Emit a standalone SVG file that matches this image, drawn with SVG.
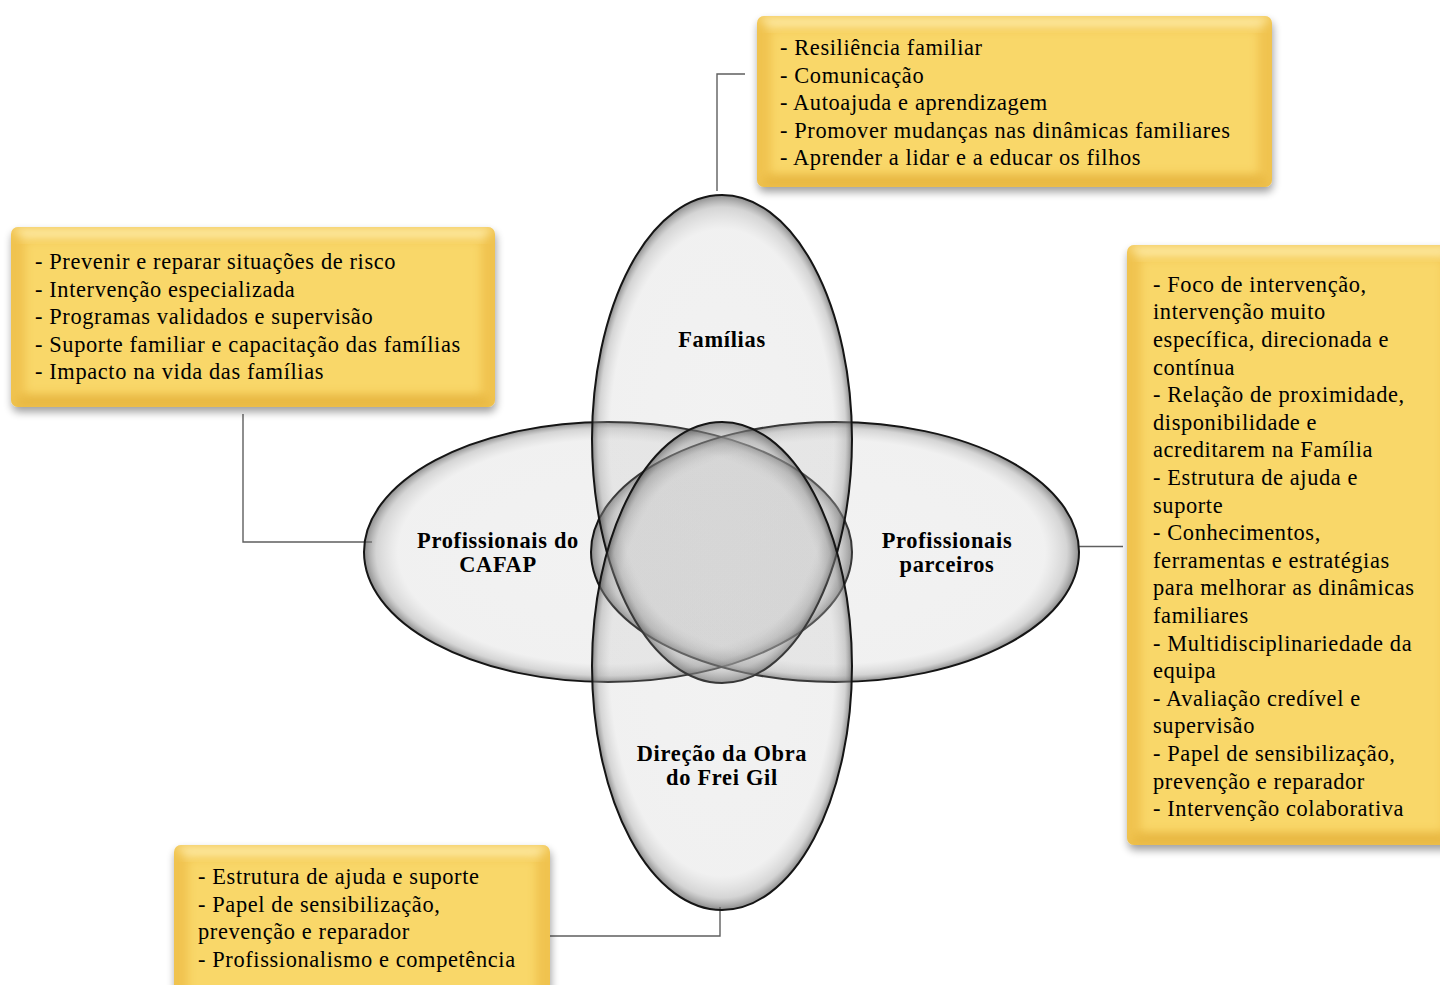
<svg xmlns="http://www.w3.org/2000/svg" width="1440" height="985" viewBox="0 0 1440 985">
<style>
.box-text{font-family:"Liberation Serif","Times New Roman",serif;font-size:22.4px;letter-spacing:0.62px;fill:#000}
.lbl{font-family:"Liberation Serif","Times New Roman",serif;font-size:22.4px;letter-spacing:0.7px;font-weight:bold;fill:#000;text-anchor:middle}
.ell{fill:url(#ellGrad);stroke:#151515;stroke-width:2}
.conn{fill:none;stroke:#5f5f5f;stroke-width:1.4}
.edge{fill:#f0c350}
.face{fill:#f9d769}
.hi{fill:#fde79c}
.lo{fill:#e8b843}
</style>
<defs>
<radialGradient id="ellGrad" cx="0.5" cy="0.5" r="0.5">
<stop offset="0" stop-color="#bdbdbd" stop-opacity="0.2"/>
<stop offset="0.86" stop-color="#bdbdbd" stop-opacity="0.22"/>
<stop offset="0.95" stop-color="#9a9a9a" stop-opacity="0.42"/>
<stop offset="1" stop-color="#5a5a5a" stop-opacity="0.7"/>
</radialGradient>
<filter id="sh" x="-10%" y="-10%" width="120%" height="130%">
<feGaussianBlur in="SourceAlpha" stdDeviation="4"/>
<feOffset dx="1" dy="5" result="b"/>
<feComponentTransfer><feFuncA type="linear" slope="0.38"/></feComponentTransfer>
<feMerge><feMergeNode/><feMergeNode in="SourceGraphic"/></feMerge>
</filter>
<filter id="soft" x="-20%" y="-20%" width="140%" height="140%">
<feGaussianBlur stdDeviation="5"/>
</filter>
<clipPath id="cTop"><rect x="757" y="16" width="515" height="171" rx="7"/></clipPath>
<clipPath id="cLeft"><rect x="11" y="227" width="484" height="180" rx="7"/></clipPath>
<clipPath id="cRight"><rect x="1127" y="245" width="330" height="600" rx="7"/></clipPath>
<clipPath id="cBot"><rect x="174" y="845" width="376" height="160" rx="7"/></clipPath>
</defs>
<rect width="1440" height="985" fill="#ffffff"/>

<g id="connectors">
<polyline class="conn" points="745,74 717,74 717,191"/>
<polyline class="conn" points="243,414 243,542 372,542"/>
<polyline class="conn" points="1078,546.5 1123,546.5"/>
<polyline class="conn" points="720,907 720,936 550,936"/>
</g>

<g id="node-cafap">
<ellipse class="ell" cx="608" cy="552" rx="244" ry="130"/>
<text class="lbl" x="498" y="548">Profissionais do</text>
<text class="lbl" x="498" y="572">CAFAP</text>
</g>
<g id="node-parceiros">
<ellipse class="ell" cx="835" cy="552" rx="244" ry="130"/>
<text class="lbl" x="947" y="548">Profissionais</text>
<text class="lbl" x="947" y="572">parceiros</text>
</g>
<g id="node-familias">
<ellipse class="ell" cx="722" cy="439" rx="130" ry="244"/>
<text class="lbl" x="722" y="347">Famílias</text>
</g>
<g id="node-direcao">
<ellipse class="ell" cx="722" cy="666" rx="130" ry="244"/>
<text class="lbl" x="722" y="761">Direção da Obra</text>
<text class="lbl" x="722" y="785">do Frei Gil</text>
</g>

<g id="box-top">
<g filter="url(#sh)"><rect class="edge" x="757" y="16" width="515" height="171" rx="7"/></g>
<g clip-path="url(#cTop)">
<polygon class="hi" points="757,16 1272,16 1258,30 771,30" filter="url(#soft)"/>
<polygon class="lo" points="757,187 1272,187 1258,173 771,173" filter="url(#soft)"/>
<rect class="face" x="771" y="30" width="487" height="143" filter="url(#soft)"/>
</g>
<text class="box-text" x="780" y="55">- Resiliência familiar</text>
<text class="box-text" x="780" y="82.5">- Comunicação</text>
<text class="box-text" x="780" y="110">- Autoajuda e aprendizagem</text>
<text class="box-text" x="780" y="137.5">- Promover mudanças nas dinâmicas familiares</text>
<text class="box-text" x="780" y="165">- Aprender a lidar e a educar os filhos</text>
</g>

<g id="box-left">
<g filter="url(#sh)"><rect class="edge" x="11" y="227" width="484" height="180" rx="7"/></g>
<g clip-path="url(#cLeft)">
<polygon class="hi" points="11,227 495,227 481,241 25,241" filter="url(#soft)"/>
<polygon class="lo" points="11,407 495,407 481,393 25,393" filter="url(#soft)"/>
<rect class="face" x="25" y="241" width="456" height="152" filter="url(#soft)"/>
</g>
<text class="box-text" x="35" y="269">- Prevenir e reparar situações de risco</text>
<text class="box-text" x="35" y="296.5">- Intervenção especializada</text>
<text class="box-text" x="35" y="324">- Programas validados e supervisão</text>
<text class="box-text" x="35" y="351.5">- Suporte familiar e capacitação das famílias</text>
<text class="box-text" x="35" y="379">- Impacto na vida das famílias</text>
</g>

<g id="box-right">
<g filter="url(#sh)"><rect class="edge" x="1127" y="245" width="330" height="600" rx="7"/></g>
<g clip-path="url(#cRight)">
<polygon class="hi" points="1127,245 1457,245 1443,259 1141,259" filter="url(#soft)"/>
<polygon class="lo" points="1127,845 1457,845 1443,831 1141,831" filter="url(#soft)"/>
<rect class="face" x="1141" y="259" width="302" height="572" filter="url(#soft)"/>
</g>
<text class="box-text" x="1153" y="291.7">- Foco de intervenção,</text>
<text class="box-text" x="1153" y="319.3">intervenção muito</text>
<text class="box-text" x="1153" y="346.9">específica, direcionada e</text>
<text class="box-text" x="1153" y="374.5">contínua</text>
<text class="box-text" x="1153" y="402.1">- Relação de proximidade,</text>
<text class="box-text" x="1153" y="429.7">disponibilidade e</text>
<text class="box-text" x="1153" y="457.3">acreditarem na Família</text>
<text class="box-text" x="1153" y="484.9">- Estrutura de ajuda e</text>
<text class="box-text" x="1153" y="512.5">suporte</text>
<text class="box-text" x="1153" y="540.1">- Conhecimentos,</text>
<text class="box-text" x="1153" y="567.7">ferramentas e estratégias</text>
<text class="box-text" x="1153" y="595.3">para melhorar as dinâmicas</text>
<text class="box-text" x="1153" y="622.9">familiares</text>
<text class="box-text" x="1153" y="650.5">- Multidisciplinariedade da</text>
<text class="box-text" x="1153" y="678.1">equipa</text>
<text class="box-text" x="1153" y="705.7">- Avaliação credível e</text>
<text class="box-text" x="1153" y="733.3">supervisão</text>
<text class="box-text" x="1153" y="760.9">- Papel de sensibilização,</text>
<text class="box-text" x="1153" y="788.5">prevenção e reparador</text>
<text class="box-text" x="1153" y="816.1">- Intervenção colaborativa</text>
</g>

<g id="box-bottom">
<g filter="url(#sh)"><rect class="edge" x="174" y="845" width="376" height="160" rx="7"/></g>
<g clip-path="url(#cBot)">
<polygon class="hi" points="174,845 550,845 536,859 188,859" filter="url(#soft)"/>
<rect class="face" x="188" y="859" width="348" height="146" filter="url(#soft)"/>
</g>
<text class="box-text" x="198" y="884">- Estrutura de ajuda e suporte</text>
<text class="box-text" x="198" y="911.5">- Papel de sensibilização,</text>
<text class="box-text" x="198" y="939">prevenção e reparador</text>
<text class="box-text" x="198" y="966.5">- Profissionalismo e competência</text>
</g>
</svg>
